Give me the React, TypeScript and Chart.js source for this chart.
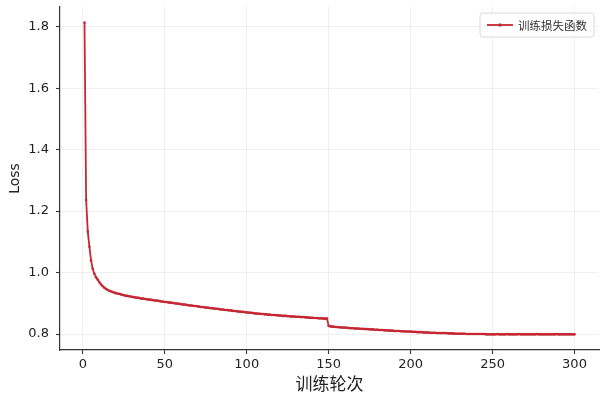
import React, { useEffect, useRef } from "react";
import { Chart, registerables } from "chart.js";

Chart.register(...registerables);

const EPOCH_COUNT = 300;
const epochs: number[] = Array.from({ length: EPOCH_COUNT }, (_, i) => i + 1);

const trainLoss: number[] = [
  1.813, 1.236, 1.133, 1.084, 1.040, 1.012, 0.996, 0.985, 0.977, 0.969,
  0.962, 0.956, 0.951, 0.947, 0.944, 0.941, 0.939, 0.937, 0.935, 0.933,
  0.932, 0.931, 0.929, 0.928, 0.926, 0.925, 0.924, 0.923, 0.922, 0.921,
  0.920, 0.919, 0.918, 0.918, 0.916, 0.915, 0.915, 0.914, 0.913, 0.912,
  0.912, 0.911, 0.910, 0.909, 0.909, 0.908, 0.907, 0.906, 0.905, 0.904,
  0.904, 0.903, 0.902, 0.902, 0.901, 0.900, 0.899, 0.899, 0.898, 0.897,
  0.896, 0.896, 0.895, 0.894, 0.893, 0.893, 0.892, 0.891, 0.891, 0.890,
  0.889, 0.888, 0.888, 0.887, 0.886, 0.886, 0.885, 0.884, 0.884, 0.883,
  0.882, 0.882, 0.881, 0.880, 0.880, 0.879, 0.878, 0.878, 0.877, 0.877,
  0.876, 0.875, 0.875, 0.874, 0.873, 0.873, 0.872, 0.872, 0.871, 0.870,
  0.870, 0.869, 0.869, 0.868, 0.867, 0.867, 0.866, 0.866, 0.865, 0.865,
  0.864, 0.864, 0.863, 0.863, 0.862, 0.862, 0.862, 0.861, 0.861, 0.860,
  0.860, 0.859, 0.859, 0.859, 0.858, 0.858, 0.857, 0.857, 0.857, 0.856,
  0.856, 0.856, 0.855, 0.855, 0.855, 0.854, 0.854, 0.853, 0.853, 0.853,
  0.852, 0.852, 0.852, 0.851, 0.851, 0.851, 0.850, 0.850, 0.850, 0.826,
  0.825, 0.824, 0.824, 0.823, 0.823, 0.822, 0.822, 0.821, 0.821, 0.821,
  0.820, 0.820, 0.819, 0.819, 0.819, 0.818, 0.818, 0.818, 0.817, 0.817,
  0.817, 0.816, 0.816, 0.816, 0.815, 0.815, 0.815, 0.814, 0.814, 0.814,
  0.813, 0.813, 0.813, 0.812, 0.812, 0.812, 0.811, 0.811, 0.811, 0.810,
  0.810, 0.810, 0.810, 0.809, 0.809, 0.809, 0.808, 0.808, 0.808, 0.808,
  0.807, 0.807, 0.807, 0.806, 0.806, 0.806, 0.806, 0.805, 0.805, 0.805,
  0.805, 0.804, 0.804, 0.804, 0.804, 0.803, 0.803, 0.803, 0.803, 0.803,
  0.803, 0.803, 0.802, 0.802, 0.802, 0.802, 0.801, 0.801, 0.801, 0.801,
  0.801, 0.801, 0.801, 0.800, 0.800, 0.800, 0.800, 0.800, 0.800, 0.800,
  0.800, 0.800, 0.800, 0.800, 0.800, 0.799, 0.799, 0.799, 0.799, 0.799,
  0.799, 0.799, 0.800, 0.799, 0.799, 0.799, 0.799, 0.799, 0.800, 0.799,
  0.799, 0.799, 0.799, 0.799, 0.799, 0.800, 0.799, 0.799, 0.799, 0.799,
  0.799, 0.799, 0.799, 0.799, 0.799, 0.799, 0.800, 0.799, 0.799, 0.799,
  0.799, 0.799, 0.799, 0.799, 0.799, 0.799, 0.799, 0.799, 0.800, 0.799,
  0.799, 0.799, 0.799, 0.799, 0.799, 0.799, 0.799, 0.799, 0.799, 0.799,
];

const xTicks: number[] = [0, 50, 100, 150, 200, 250, 300];
const yTicks: number[] = [0.8, 1.0, 1.2, 1.4, 1.6, 1.8];

const seriesLabel = "训练损失函数";
const xTitle = "训练轮次";
const yTitle = "Loss";

const LINE_COLOR = "#c42832";
const AXIS_COLOR = "#333333";
const GRID_COLOR = "rgba(0,0,0,0.06)";
const TICK_FONT = "'DejaVu Sans', sans-serif";
const CJK_FONT = "'Noto Sans CJK SC', 'DejaVu Sans', sans-serif";

const legendPlugin = {
  id: "customLegend",
  afterDraw(chart: any) {
    const ctx = chart.ctx as CanvasRenderingContext2D;
    const area = chart.chartArea;
    const ds = chart.data.datasets[0];
    ctx.save();
    ctx.font = `11.5px ${CJK_FONT}`;
    const textW = ctx.measureText(ds.label).width;
    const boxW = 7 + 26 + 5 + textW + 7;
    const boxH = 24;
    const x = area.right - 5 - boxW;
    const y = area.top + 6;
    const r = 3;
    ctx.beginPath();
    ctx.moveTo(x + r, y);
    ctx.lineTo(x + boxW - r, y);
    ctx.quadraticCurveTo(x + boxW, y, x + boxW, y + r);
    ctx.lineTo(x + boxW, y + boxH - r);
    ctx.quadraticCurveTo(x + boxW, y + boxH, x + boxW - r, y + boxH);
    ctx.lineTo(x + r, y + boxH);
    ctx.quadraticCurveTo(x, y + boxH, x, y + boxH - r);
    ctx.lineTo(x, y + r);
    ctx.quadraticCurveTo(x, y, x + r, y);
    ctx.closePath();
    ctx.fillStyle = "rgba(255,255,255,0.85)";
    ctx.fill();
    ctx.strokeStyle = "#d8d8d8";
    ctx.lineWidth = 1;
    ctx.stroke();
    const cy = y + boxH / 2;
    ctx.strokeStyle = ds.borderColor;
    ctx.lineWidth = 1.8;
    ctx.beginPath();
    ctx.moveTo(x + 7, cy);
    ctx.lineTo(x + 33, cy);
    ctx.stroke();
    ctx.fillStyle = ds.borderColor;
    ctx.beginPath();
    ctx.arc(x + 20, cy, 1.7, 0, Math.PI * 2);
    ctx.fill();
    ctx.fillStyle = "#333";
    ctx.textBaseline = "middle";
    ctx.textAlign = "left";
    ctx.fillText(ds.label, x + 38, cy + 0.5);
    ctx.restore();
  },
};

const zeroPadding = (axis: any) => {
  axis.paddingTop = 0;
  axis.paddingBottom = 0;
  axis.paddingLeft = 0;
  axis.paddingRight = 0;
};

export default function App() {
  const canvasRef = useRef<HTMLCanvasElement | null>(null);

  useEffect(() => {
    if (!canvasRef.current) return;
    const points = epochs.map((e, i) => ({ x: e, y: trainLoss[i] }));
    const chart = new Chart(canvasRef.current, {
      type: "line",
      data: {
        datasets: [
          {
            label: seriesLabel,
            data: points,
            borderColor: LINE_COLOR,
            backgroundColor: LINE_COLOR,
            borderWidth: 1.8,
            pointRadius: 1.3,
            pointBorderWidth: 0,
            pointBackgroundColor: LINE_COLOR,
            tension: 0,
            fill: false,
          },
        ],
      },
      options: {
        animation: false,
        responsive: true,
        maintainAspectRatio: false,
        layout: { padding: { left: 0, right: 10, top: 7, bottom: 0 } },
        plugins: {
          legend: { display: false },
          tooltip: { enabled: false },
        },
        scales: {
          x: {
            type: "linear",
            min: -13.95,
            max: 314.95,
            afterBuildTicks: (axis: any) => {
              axis.ticks = xTicks.map((v) => ({ value: v }));
            },
            afterFit: (axis: any) => {
              axis.height = 47;
              zeroPadding(axis);
            },
            ticks: {
              color: "#222",
              font: { family: TICK_FONT, size: 13 },
              padding: 3,
              maxRotation: 0,
              callback: (v: any) => String(v),
            },
            grid: {
              color: GRID_COLOR,
              lineWidth: 1,
              drawTicks: true,
              tickLength: 4,
              tickColor: AXIS_COLOR,
              tickWidth: 1.1,
            },
            border: { color: AXIS_COLOR, width: 1.2 },
            title: {
              display: true,
              text: xTitle,
              color: "#222",
              font: { family: CJK_FONT, size: 17 },
              padding: { top: 0, bottom: 3 },
            },
          },
          y: {
            type: "linear",
            min: 0.748,
            max: 1.864,
            afterBuildTicks: (axis: any) => {
              axis.ticks = yTicks.map((v) => ({ value: v }));
            },
            afterFit: (axis: any) => {
              axis.width = 60;
              zeroPadding(axis);
            },
            ticks: {
              color: "#222",
              font: { family: TICK_FONT, size: 13 },
              padding: 7,
              callback: (v: any) => Number(v).toFixed(1),
            },
            grid: {
              color: GRID_COLOR,
              lineWidth: 1,
              drawTicks: true,
              tickLength: 4,
              tickColor: AXIS_COLOR,
              tickWidth: 1.1,
            },
            border: { color: AXIS_COLOR, width: 1.2 },
            title: {
              display: true,
              text: yTitle,
              color: "#222",
              font: { family: TICK_FONT, size: 14 },
              padding: { top: 7, bottom: 0 },
            },
          },
        },
      },
      plugins: [legendPlugin],
    });
    return () => chart.destroy();
  }, []);

  return (
    <div
      style={{
        position: "absolute",
        left: 0,
        top: 0,
        width: 609,
        height: 397,
        background: "#fff",
      }}
    >
      <canvas ref={canvasRef} />
    </div>
  );
}
